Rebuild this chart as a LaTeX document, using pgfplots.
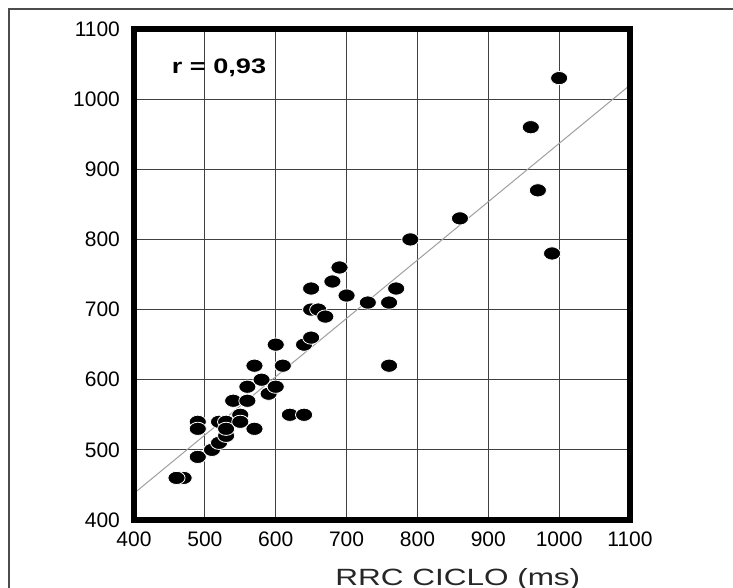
\documentclass[border=0pt]{standalone}
\usepackage{fontspec}
\setmainfont{Liberation Sans}
\usepackage{graphicx}
\usepackage{pgfplots}
\pgfplotsset{compat=1.18}
\begin{document}
\begin{tikzpicture}
\useasboundingbox (-67pt,-34pt) rectangle (299.5pt,260pt);
\draw[black!70, line width=0.7pt] (-62.5pt,-60pt) rectangle (330pt,255.5pt);
\begin{axis}[
  at={(0,0)}, anchor=south west,
  scale only axis, width=248pt, height=245.5pt,
  xmin=400, xmax=1100, ymin=400, ymax=1100,
  xtick distance=100, ytick distance=100,
  grid=major, grid style={black!75, line width=0.5pt},
  major tick length=0pt,
  tick label style={font=\fontsize{10.5}{12}\selectfont},
  /pgf/number format/assume math mode=true,
  /pgf/number format/1000 sep={},
  xticklabel style={yshift=-2.5pt},
  yticklabel style={xshift=-3.5pt},
  clip=false,
]
% regression line
\addplot[gray!75, line width=0.5pt] coordinates {(400,438) (1100,1020)};
% RRC pairs
\addplot[only marks, mark=*, mark size=3.3pt,
  mark options={fill=black, draw=white, line width=0.4pt, xscale=1.3}]
  coordinates {
  (470,460) (460,460) (490,490) (510,500) (520,510) (530,520)
  (490,540) (490,530) (520,540) (530,540) (530,530) (570,530)
  (540,570) (550,550) (550,540) (560,570) (560,590) (570,620)
  (580,600) (590,580) (600,590) (610,620) (600,650) (620,550)
  (640,550) (640,650) (650,660) (650,730) (650,700) (660,700)
  (670,690) (680,740) (690,760) (700,720) (730,710) (760,710)
  (770,730) (760,620) (790,800) (860,830) (960,960) (970,870)
  (990,780) (1000,1030)
  };
\draw[line width=3pt] (rel axis cs:0,0) rectangle (rel axis cs:1,1);
\node[font=\bfseries\fontsize{10.5}{12}\selectfont] at (axis cs:520,1045)
  {\scalebox{1.29}[1]{r = 0,93}};
\node[anchor=base, font=\fontsize{11.75}{14}\selectfont, text=black!85]
  at (axis cs:857,307) {\scalebox{1.34}[1]{RRC CICLO (ms)}};
\end{axis}
\end{tikzpicture}
\end{document}
